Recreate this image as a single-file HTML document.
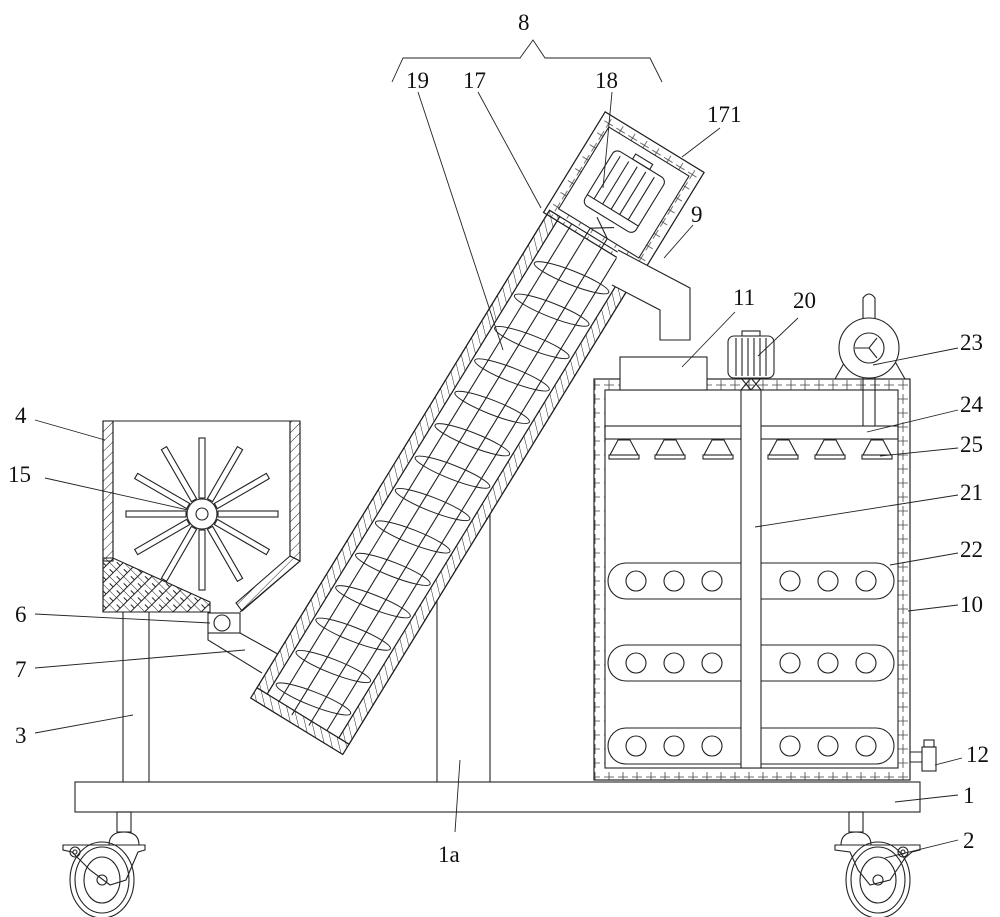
<!DOCTYPE html>
<html><head><meta charset="utf-8"><style>
html,body{margin:0;padding:0;background:#fff}
svg{display:block}
text{font-family:"Liberation Serif",serif;font-size:23px;fill:#111}
</style></head><body>
<svg width="1000" height="917" viewBox="0 0 1000 917" xmlns="http://www.w3.org/2000/svg">
<defs>
<pattern id="hd" width="7" height="7" patternUnits="userSpaceOnUse" patternTransform="rotate(45)">
<line x1="0" y1="0" x2="0" y2="7" stroke="#222" stroke-width="1"/></pattern>
<pattern id="sq" width="14" height="14" patternUnits="userSpaceOnUse">
<path d="M2 7 H7 V2 M7 12 V7 H12" fill="none" stroke="#444" stroke-width="0.8"/></pattern>
<pattern id="xh" width="10" height="10" patternUnits="userSpaceOnUse" patternTransform="rotate(45)">
<path d="M0 0 H10 M0 5 H5 V10 M5 0 V5" fill="none" stroke="#222" stroke-width="1"/></pattern>
</defs>
<g fill="none" stroke="#222" stroke-width="1.1">

<rect x="75" y="782" width="845" height="30" fill="#fff"/>
<rect x="117" y="812" width="14" height="20"/>
<path d="M109 845 Q109 832 124 832 Q139 832 139 845 Z"/>
<path d="M63 845 H145 V850 L138 852 L126 880 L110 885 L90 870 L78 858 L72 852 L63 850 Z"/>
<circle cx="75" cy="852" r="5"/><circle cx="75" cy="852" r="2"/>
<ellipse cx="102" cy="880" rx="32" ry="38"/>
<ellipse cx="102" cy="880" rx="27" ry="33"/>
<ellipse cx="102" cy="880" rx="18" ry="23"/>
<circle cx="102" cy="880" r="5"/>

<rect x="849" y="812" width="14" height="20"/>
<path d="M841 845 Q841 832 856 832 Q871 832 871 845 Z"/>
<path d="M835 845 H920 V850 L912 852 L905 858 L890 880 L870 885 L858 870 L850 852 L835 850 Z"/>
<circle cx="903" cy="852" r="5"/><circle cx="903" cy="852" r="2"/>
<ellipse cx="878" cy="880" rx="32" ry="38"/>
<ellipse cx="878" cy="880" rx="27" ry="33"/>
<ellipse cx="878" cy="880" rx="18" ry="23"/>
<circle cx="878" cy="880" r="5"/>

<rect x="103" y="421" width="10" height="140" fill="url(#hd)"/>
<path d="M103 421 H113 M300 421 V561 L240 612 M103 421 V612 H210" />
<polygon points="290,421 300,421 300,561 290,556" fill="url(#hd)"/>
<polygon points="300,561 290,556 236,603 242,611" fill="url(#hd)"/>
<line x1="113" y1="421" x2="290" y2="421"/>
<polygon points="103,558 113,558 210,602 210,612 103,612" fill="url(#xh)"/>
<line x1="113" y1="421" x2="113" y2="558"/>
<line x1="290" y1="421" x2="290" y2="556"/>
<g transform="translate(202 514)">
<g id="bl"><rect x="16" y="-3" width="60" height="6" fill="#fff"/></g>
<use href="#bl" transform="rotate(30)"/><use href="#bl" transform="rotate(60)"/><use href="#bl" transform="rotate(90)"/>
<use href="#bl" transform="rotate(120)"/><use href="#bl" transform="rotate(150)"/><use href="#bl" transform="rotate(180)"/>
<use href="#bl" transform="rotate(210)"/><use href="#bl" transform="rotate(240)"/><use href="#bl" transform="rotate(270)"/>
<use href="#bl" transform="rotate(300)"/><use href="#bl" transform="rotate(330)"/>
<circle r="15" fill="#fff"/><circle r="6"/>
</g>
<rect x="208" y="613" width="32" height="20" fill="#fff"/>
<circle cx="222" cy="623" r="8"/>
<path d="M208 633 V640 L262 673 M240 633 L292 662"/>
<path d="M123 612 V782 M149 612 V782"/>
<path d="M437 565 V782 M490 470 V782"/>

<g transform="translate(303 716) rotate(-58.5)">
<rect x="0" y="-54" width="560" height="108" fill="#fff"/>
<rect x="0" y="-54" width="560" height="12" fill="url(#hd)"/>
<rect x="0" y="42" width="560" height="12" fill="url(#hd)"/>
<rect x="-12" y="-54" width="12" height="108" fill="url(#hd)"/>
<path d="M0 -42 H560 M0 42 H560 M-12 -54 H0 M-12 54 H0 M-12 -54 V54 M0 -54 H560 M0 54 H560 M0 -28 H560 M0 28 H560 M-5 -10 H570 M-5 10 H570"/>
<g stroke-width="1">
<ellipse cx="20" cy="0" rx="40" ry="7" transform="rotate(80 20 0)"/>
<ellipse cx="58" cy="0" rx="40" ry="7" transform="rotate(80 58 0)"/>
<ellipse cx="96" cy="0" rx="40" ry="7" transform="rotate(80 96 0)"/>
<ellipse cx="134" cy="0" rx="40" ry="7" transform="rotate(80 134 0)"/>
<ellipse cx="172" cy="0" rx="40" ry="7" transform="rotate(80 172 0)"/>
<ellipse cx="210" cy="0" rx="40" ry="7" transform="rotate(80 210 0)"/>
<ellipse cx="248" cy="0" rx="40" ry="7" transform="rotate(80 248 0)"/>
<ellipse cx="286" cy="0" rx="40" ry="7" transform="rotate(80 286 0)"/>
<ellipse cx="324" cy="0" rx="40" ry="7" transform="rotate(80 324 0)"/>
<ellipse cx="362" cy="0" rx="40" ry="7" transform="rotate(80 362 0)"/>
<ellipse cx="400" cy="0" rx="40" ry="7" transform="rotate(80 400 0)"/>
<ellipse cx="438" cy="0" rx="40" ry="7" transform="rotate(80 438 0)"/>
<ellipse cx="476" cy="0" rx="40" ry="7" transform="rotate(80 476 0)"/>
<ellipse cx="514" cy="0" rx="40" ry="7" transform="rotate(80 514 0)"/>
</g>
<rect x="555" y="-58" width="118" height="116" fill="url(#sq)"/>
<rect x="555" y="-58" width="118" height="116"/>
<rect x="566" y="-47" width="96" height="94" fill="#fff"/>
<path d="M566 -10 L579 10 M566 10 L579 -10"/>
<rect x="583" y="-30" width="64" height="60" rx="6" fill="#fff"/>
<path d="M593 -30 V30 M593 -22 H643 M593 -12 H643 M593 -2 H643 M593 8 H643 M593 18 H643"/>
<rect x="647" y="-10" width="6" height="20"/>
</g>
<path d="M618 250 L690 288 V340 H660 V310 L612 285" fill="#fff"/>

<rect x="594" y="379" width="316" height="401" fill="url(#sq)"/>
<rect x="594" y="379" width="316" height="401"/>
<rect x="605" y="390" width="293" height="378" fill="#fff"/>
<rect x="605" y="426" width="293" height="13"/>
<rect x="620" y="357" width="87" height="33" fill="#fff"/>
<g id="nz"><path d="M618 440 H630 L638 455 H610 Z"/><rect x="609" y="455" width="30" height="4"/></g>
<use href="#nz" transform="translate(46 0)"/>
<use href="#nz" transform="translate(94 0)"/>
<use href="#nz" transform="translate(159 0)"/>
<use href="#nz" transform="translate(206 0)"/>
<use href="#nz" transform="translate(253 0)"/>
<rect x="741" y="390" width="20" height="378" fill="#fff"/>
<path d="M741 378 L751 390 M751 378 L741 390 M751 378 L761 390 M761 378 L751 390"/>
<g id="pd">
<path d="M741 563 H626 A18 18 0 0 0 626 599 H741"/>
<path d="M761 563 H876 A18 18 0 0 1 876 599 H761"/>
<circle cx="636" cy="581" r="10"/><circle cx="674" cy="581" r="10"/><circle cx="712" cy="581" r="10"/>
<circle cx="790" cy="581" r="10"/><circle cx="828" cy="581" r="10"/><circle cx="866" cy="581" r="10"/>
</g>
<use href="#pd" transform="translate(0 82)"/>
<use href="#pd" transform="translate(0 165)"/>
<rect x="728" y="336" width="46" height="42" rx="6" fill="#fff"/>
<rect x="742" y="331" width="18" height="5"/>
<path d="M736 338 V376 M742 338 V376 M748 338 V376 M754 338 V376 M760 338 V376 M766 338 V376"/>
<path d="M863 426 V378 M875 426 V378"/>
<path d="M863 318 V298 Q869 290 875 298 V318"/>
<path d="M835 379 L847 358 M905 379 L893 358"/>
<circle cx="869" cy="348" r="30" fill="#fff"/>
<circle cx="869" cy="348" r="15"/>
<path d="M855 348 H869 L877 338 M869 348 L877 358"/>
<path d="M910 752 H922 M910 762 H922"/>
<rect x="922" y="747" width="14" height="24" fill="#fff"/>
<rect x="924" y="740" width="10" height="7"/>
</g>

<g stroke="#222" stroke-width="0.9" fill="none">
<path d="M392 82 L403 58 H520 L533 40 L545 58 H650 L662 82"/>
<path d="M418 92 L503 350"/>
<path d="M478 92 L541 208"/>
<path d="M612 92 L603 188"/>
<path d="M720 128 L682 157"/>
<path d="M693 225 L664 258"/>
<path d="M735 312 L682 367"/>
<path d="M798 318 L758 356"/>
<path d="M958 348 L873 365"/>
<path d="M958 410 L867 432"/>
<path d="M958 448 L880 456"/>
<path d="M958 495 L755 527"/>
<path d="M958 553 L890 565"/>
<path d="M958 605 L908 611"/>
<path d="M962 758 L935 765"/>
<path d="M958 795 L895 802"/>
<path d="M958 840 L885 858"/>
<path d="M455 832 L460 760"/>
<path d="M35 420 L105 440"/>
<path d="M45 478 L188 510"/>
<path d="M35 614 L210 623"/>
<path d="M35 668 L245 650"/>
<path d="M35 733 L133 715"/>
</g>
<g>
<text x="518" y="30">8</text>
<text x="406" y="88">19</text>
<text x="463" y="88">17</text>
<text x="595" y="88">18</text>
<text x="707" y="122">171</text>
<text x="691" y="222">9</text>
<text x="733" y="305">11</text>
<text x="793" y="308">20</text>
<text x="960" y="350">23</text>
<text x="960" y="412">24</text>
<text x="960" y="452">25</text>
<text x="960" y="500">21</text>
<text x="960" y="557">22</text>
<text x="960" y="612">10</text>
<text x="966" y="762">12</text>
<text x="963" y="803">1</text>
<text x="963" y="848">2</text>
<text x="438" y="862">1a</text>
<text x="15" y="423">4</text>
<text x="8" y="482">15</text>
<text x="15" y="622">6</text>
<text x="15" y="677">7</text>
<text x="15" y="743">3</text>
</g>
</svg>
</body></html>
